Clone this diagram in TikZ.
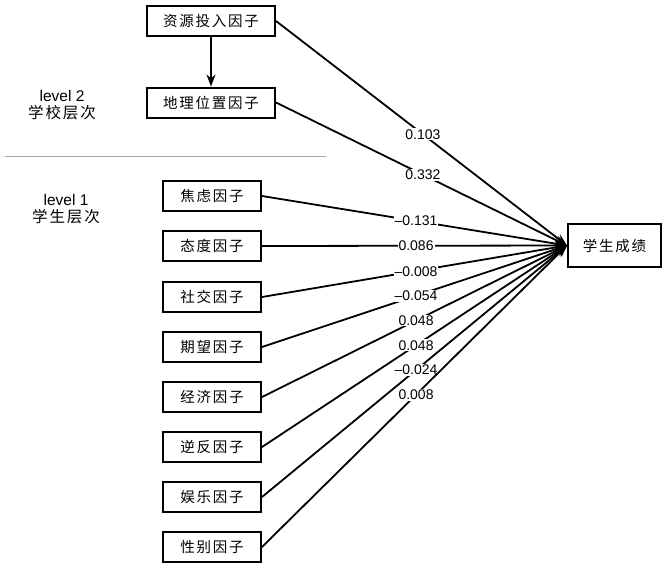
\documentclass[tikz,border=0pt]{standalone}
\usepackage{fontspec}
\setmainfont{Liberation Sans}
\newfontfamily\cjk[LetterSpace=12]{Noto Sans CJK SC}
\usetikzlibrary{arrows.meta}
\begin{document}
\begin{tikzpicture}[x=1pt,y=-1pt,
  fbox/.style={draw,line width=2pt,minimum height=30pt,inner sep=0pt,font=\cjk\fontsize{14.5}{16}\selectfont},
  conn/.style={line width=1.8pt,-{Stealth[length=12pt,width=9pt]}},
  lab/.style={fill=white,inner sep=1pt,font=\fontsize{14}{16}\selectfont},
  lvl/.style={font=\fontsize{15.5}{18}\selectfont,align=center}]
\useasboundingbox (0,0) rectangle (667,566);
\node[fbox,minimum width=128pt] (a) at (211,21) {资源投入因子};
\node[fbox,minimum width=128pt] (b) at (211,102.5) {地理位置因子};
\node[fbox,minimum width=98pt] (c1) at (212,196) {焦虑因子};
\node[fbox,minimum width=98pt] (c2) at (212,246) {态度因子};
\node[fbox,minimum width=98pt] (c3) at (212,297) {社交因子};
\node[fbox,minimum width=98pt] (c4) at (212,347) {期望因子};
\node[fbox,minimum width=98pt] (c5) at (212,397) {经济因子};
\node[fbox,minimum width=98pt] (c6) at (212,447) {逆反因子};
\node[fbox,minimum width=98pt] (c7) at (212,497) {娱乐因子};
\node[fbox,minimum width=98pt] (c8) at (212,547) {性别因子};
\node[fbox,minimum width=93pt,minimum height=43pt] (t) at (614.5,245.5) {学生成绩};
\node[lvl] (l2) at (62,105) {level 2\\[-1pt]{\cjk 学校层次}};
\node[lvl] (l1) at (66,209) {level 1\\[-1pt]{\cjk 学生层次}};
\coordinate (s1) at (5,156);
\coordinate (s2) at (326,156);
\draw[gray!70,line width=1pt] (s1) -- (s2);
\draw[conn] (a) -- (b);
\draw[conn] (a.east) -- node[lab,pos=0.505] {0.103} (t.west);
\draw[conn] (b.east) -- node[lab,pos=0.505] {0.332} (t.west);
\draw[conn] (c1.east) -- node[lab,pos=0.505] {–0.131} (t.west);
\draw[conn] (c2.east) -- node[lab,pos=0.505] {0.086} (t.west);
\draw[conn] (c3.east) -- node[lab,pos=0.505,yshift=-1pt] {–0.008} (t.west);
\draw[conn] (c4.east) -- node[lab,pos=0.505] {–0.054} (t.west);
\draw[conn] (c5.east) -- node[lab,pos=0.505] {0.048} (t.west);
\draw[conn] (c6.east) -- node[lab,pos=0.505] {0.048} (t.west);
\draw[conn] (c7.east) -- node[lab,pos=0.505] {–0.024} (t.west);
\draw[conn] (c8.east) -- node[lab,pos=0.505] {0.008} (t.west);
\end{tikzpicture}
\end{document}
